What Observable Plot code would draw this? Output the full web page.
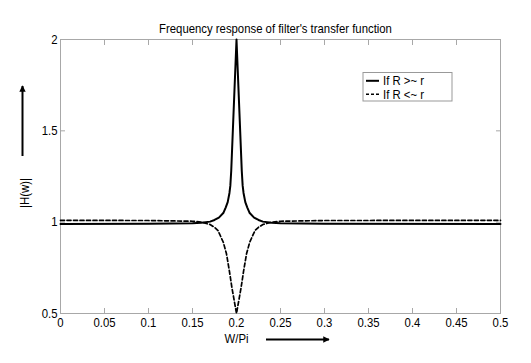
<!DOCTYPE html>
<html>
<head>
<meta charset="utf-8">
<script src="https://cdn.jsdelivr.net/npm/d3@7"></script>
<script src="https://cdn.jsdelivr.net/npm/@observablehq/plot@0.6"></script>
<style>
  html, body { margin: 0; padding: 0; background: #fff; }
</style>
</head>
<body>
<div id="chart"></div>
<script>
const titleText = "Frequency response of filter's transfer function";
const xLabel = "W/Pi";
const yLabel = "|H(w)|";
const seriesNames = ["If R >~ r", "If R <~ r"];

const xTicks = [0, 0.05, 0.1, 0.15, 0.2, 0.25, 0.3, 0.35, 0.4, 0.45, 0.5];
const xTickLabels = ["0", "0.05", "0.1", "0.15", "0.2", "0.25", "0.3", "0.35", "0.4", "0.45", "0.5"];
const yTicks = [0.5, 1, 1.5, 2];
const yTickLabels = ["0.5", "1", "1.5", "2"];

// Series 1: R >~ r (solid, peak)
const solidX = [0, 0.1, 0.15, 0.16, 0.17, 0.175, 0.18, 0.185, 0.1877, 0.19, 0.192, 0.193, 0.194, 0.2,
                0.206, 0.207, 0.208, 0.21, 0.2123, 0.215, 0.22, 0.225, 0.23, 0.24, 0.25, 0.3, 0.5];
const solidY = [0.99, 0.991, 0.994, 0.997, 1.003, 1.012, 1.025, 1.05, 1.08, 1.11, 1.16, 1.2, 1.28, 2.0,
                1.28, 1.2, 1.16, 1.11, 1.08, 1.05, 1.025, 1.012, 1.003, 0.997, 0.994, 0.991, 0.99];

// Series 2: R <~ r (dashed, notch)
const dashX = [0, 0.1, 0.15, 0.16, 0.17, 0.175, 0.179, 0.185, 0.1886, 0.192, 0.1947, 0.2,
               0.2053, 0.208, 0.2114, 0.215, 0.221, 0.225, 0.23, 0.24, 0.25, 0.3, 0.5];
const dashY = [1.01, 1.009, 1.005, 1.0, 0.987, 0.972, 0.954, 0.89, 0.827, 0.73, 0.644, 0.5,
               0.644, 0.73, 0.827, 0.89, 0.954, 0.972, 0.987, 1.0, 1.005, 1.009, 1.01];

const solidData = solidX.map((x, i) => ({x, y: solidY[i]}));
const dashData = dashX.map((x, i) => ({x, y: dashY[i]}));

const FONT = "'Liberation Sans', Arial, sans-serif";
const fmtX = d => xTickLabels[xTicks.indexOf(d)];
const fmtY = d => yTickLabels[yTicks.indexOf(d)];
const axisGrey = "#a8a8a8";

const plot = Plot.plot({
  width: 531,
  height: 363,
  marginLeft: 60,
  marginRight: 31,
  marginTop: 39,
  marginBottom: 50,
  style: {fontFamily: FONT, fontSize: "13.5px", background: "#fff", color: "#000", overflow: "visible"},
  x: {domain: [0, 0.5], label: null},
  y: {domain: [0.5, 2], label: null},
  marks: [
    Plot.frame({stroke: axisGrey, strokeWidth: 1}),
    // inward tick marks on all four sides
    Plot.axisX(xTicks, {anchor: "bottom", tickSize: -5, fill: "none", stroke: axisGrey, label: null}),
    Plot.axisX(xTicks, {anchor: "top", tickSize: -5, fill: "none", stroke: axisGrey, label: null}),
    Plot.axisY(yTicks, {anchor: "left", tickSize: -5, fill: "none", stroke: axisGrey, label: null}),
    Plot.axisY(yTicks, {anchor: "right", tickSize: -5, fill: "none", stroke: axisGrey, label: null}),
    // tick labels
    Plot.axisX(xTicks, {anchor: "bottom", tickSize: 0, tickPadding: 4, tickFormat: fmtX, stroke: "none", label: null}),
    Plot.axisY(yTicks, {anchor: "left", tickSize: 0, tickPadding: 3, tickFormat: fmtY, stroke: "none", label: null}),
    Plot.line(dashData, {x: "x", y: "y", stroke: "#000", strokeWidth: 1.7, strokeDasharray: "4,2.5"}),
    Plot.line(solidData, {x: "x", y: "y", stroke: "#000", strokeWidth: 2}),
    Plot.text([titleText], {frameAnchor: "top", dx: -5, dy: -16, fontSize: 13.5, fill: "#000"}),
    Plot.text([xLabel], {frameAnchor: "bottom", dx: -44, dy: 29, fontSize: 13.5, fill: "#000"})
  ]
});

document.getElementById("chart").appendChild(plot);

// decorations: arrows, rotated y label, legend
const svg = d3.select(plot);
const defs = svg.append("defs");
defs.append("marker")
  .attr("id", "arrowhead")
  .attr("viewBox", "0 0 10 10")
  .attr("refX", 9).attr("refY", 5)
  .attr("markerWidth", 3.2).attr("markerHeight", 3.2)
  .attr("markerUnits", "strokeWidth")
  .attr("orient", "auto")
  .append("path").attr("d", "M0,0 L10,5 L0,10 z").attr("fill", "#000");

const deco = svg.append("g");
// x-axis arrow
deco.append("line")
  .attr("x1", 266).attr("y1", 339.5).attr("x2", 329).attr("y2", 339.5)
  .attr("stroke", "#000").attr("stroke-width", 2).attr("marker-end", "url(#arrowhead)");
// y-axis arrow
deco.append("line")
  .attr("x1", 22.5).attr("y1", 156).attr("x2", 22.5).attr("y2", 86)
  .attr("stroke", "#000").attr("stroke-width", 2).attr("marker-end", "url(#arrowhead)");
// y label
deco.append("text")
  .attr("transform", "translate(24,193) rotate(-90)")
  .attr("text-anchor", "middle").attr("dominant-baseline", "central")
  .attr("font-family", FONT).attr("font-size", 13.5).attr("fill", "#000")
  .text(yLabel);

// legend
const lg = deco.append("g");
lg.append("rect")
  .attr("x", 363).attr("y", 72.5).attr("width", 89).attr("height", 28.5)
  .attr("fill", "#fff").attr("stroke", "#999").attr("stroke-width", 1);
const rows = [
  {name: seriesNames[0], dash: null, w: 2},
  {name: seriesNames[1], dash: "3,2", w: 1.6}
];
rows.forEach((r, i) => {
  const cy = 80.8 + i * 13.5;
  lg.append("line")
    .attr("x1", 366).attr("x2", 379).attr("y1", cy).attr("y2", cy)
    .attr("stroke", "#000").attr("stroke-width", r.w)
    .attr("stroke-dasharray", r.dash);
  lg.append("text")
    .attr("x", 383).attr("y", cy).attr("dominant-baseline", "central")
    .attr("text-anchor", "start")
    .attr("font-family", FONT).attr("font-size", 13.5).attr("fill", "#000")
    .text(r.name);
});

// condense all text horizontally to mimic the narrow face of the original
svg.selectAll("text").each(function() {
  const len = this.getComputedTextLength();
  if (len > 0) {
    this.setAttribute("textLength", (len * 0.84).toFixed(2));
    this.setAttribute("lengthAdjust", "spacingAndGlyphs");
  }
});
</script>
</body>
</html>
